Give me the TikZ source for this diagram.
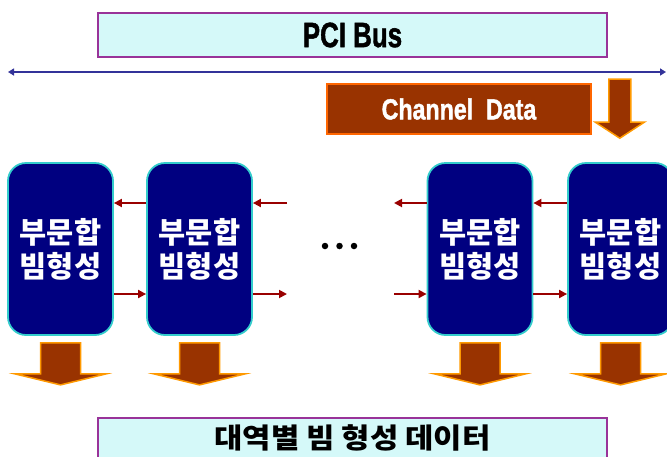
\documentclass[tikz,border=0pt]{standalone}
\usepackage{fontspec}
\usepackage{graphicx}
\setmainfont{Liberation Sans}
\newfontfamily\heavyfont{Liberation Sans Bold}[FakeBold=1.6]
\newfontfamily\krfont{Noto Sans CJK KR}
\usetikzlibrary{arrows.meta,calc}

\definecolor{busfill}{HTML}{D5F9F9}
\definecolor{busedge}{HTML}{993399}
\definecolor{busline}{HTML}{333399}
\definecolor{brown}{HTML}{993300}
\definecolor{chedge}{HTML}{FF6600}
\definecolor{glow}{HTML}{FF9900}
\definecolor{navy}{HTML}{000080}
\definecolor{teal}{HTML}{33CCCC}
\definecolor{linkred}{HTML}{990000}

\tikzset{
  titlebox/.style={draw=busedge, fill=busfill, line width=1.6pt,
    minimum width=509pt, minimum height=44pt, inner sep=0pt},
  chbox/.style={draw=chedge, fill=brown, line width=1.6pt,
    minimum width=264pt, minimum height=50pt, inner sep=0pt, text=white},
  beamblock/.style={draw=teal, fill=navy, line width=1.8pt, rounded corners=18pt,
    minimum width=105pt, minimum height=172pt, inner sep=0pt, text=white,
    align=center, font=\krfont\bfseries\fontsize{29.5}{34}\selectfont},
  bus/.style={draw=busline, line width=1.8pt, {Triangle[length=6pt,width=7pt]}-{Triangle[length=6pt,width=7pt]}},
  link/.style={draw=linkred, line width=1.8pt, -{Triangle[length=8pt,width=8pt]}},
  fatarrow/.style={fill=brown, draw=glow, line width=1.5pt, line join=miter},
  dot/.style={circle, fill=black, inner sep=0pt, minimum size=6.5pt},
  pics/fatdown/.style args={#1/#2/#3/#4}{code={
    \draw[fatarrow] (-#1,0) -- (#1,0) -- (#1,#3) -- (#2,#3) -- (0,#3+#4)
      -- (-#2,#3) -- (-#1,#3) -- cycle;}}
}

\begin{document}
\begin{tikzpicture}[x=1pt,y=-1pt]
\useasboundingbox (0,0) rectangle (667,456);
\clip (0,0) rectangle (667,456);

% PCI bus label and the bus itself
\node[titlebox] (pci) at (352.5,35)
  {\heavyfont\fontsize{35}{40}\selectfont\scalebox{0.74}[1]{PCI Bus}};
\coordinate (busL) at (8,72);
\coordinate (busR) at (666,72);
\draw[bus] (busL) -- (busR);

% channel data input
\node[chbox] (ch) at (459,109)
  {\heavyfont\fontsize{29}{34}\selectfont\scalebox{0.8}[1]{Channel\ \ Data}};
\pic at ($(ch.north east)+(28,-4)$) {fatdown=11/24.5/43/16};

% sub-array beamformer blocks
\node[beamblock] (b1) at (60.5,249) {부문합\\빔형성};
\node[beamblock] (b2) at (199.5,249) {부문합\\빔형성};
\node[beamblock] (b3) at (480,249) {부문합\\빔형성};
\node[beamblock] (b4) at (620.5,249) {부문합\\빔형성};

% partial-sum links between neighbouring blocks
\coordinate (top) at (0,203);
\coordinate (bot) at (0,294);
\coordinate (stubA) at (287,203);
\coordinate (stubB) at (394,203);
\coordinate (stubC) at (287,294);
\coordinate (stubD) at (394,294);
\draw[link] (b2.west |- top) -- (b1.east |- top);
\draw[link] (stubA) -- (b2.east |- top);
\draw[link] (b3.west |- top) -- (stubB);
\draw[link] (b4.west |- top) -- (b3.east |- top);
\draw[link] (b1.east |- bot) -- (b2.west |- bot);
\draw[link] (b2.east |- bot) -- (stubC);
\draw[link] (stubD) -- (b3.west |- bot);
\draw[link] (b3.east |- bot) -- (b4.west |- bot);

% ellipsis between the block groups
\node[dot] (d1) at (325,246) {};
\node[dot] (d2) at (339.5,246) {};
\node[dot] (d3) at (354,246) {};

% outputs of each block
\foreach \b in {b1,b2,b3,b4}
  \pic at ($(\b.south)+(0,7)$) {fatdown=20/45.5/31/11};

% per-band beamformed output
\node[titlebox, minimum height=50pt, anchor=north] (out) at (352.5,417) {};
\node (outtxt) at (352.5,438)
  {\krfont\bfseries\fontsize{28}{32}\selectfont\scalebox{1.1}[1]{대역별 빔 형성 데이터}};
\end{tikzpicture}
\end{document}
